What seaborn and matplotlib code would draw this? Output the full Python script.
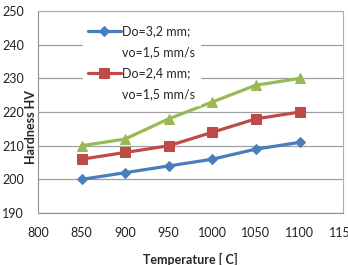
import numpy as np
import pandas as pd
import matplotlib
matplotlib.use("Agg")
import matplotlib.pyplot as plt
from matplotlib.lines import Line2D
import seaborn as sns

temperature = [850, 900, 950, 1000, 1050, 1100]
hv_d32 = [200, 202, 204, 206, 209, 211]
hv_d24 = [206, 208, 210, 214, 218, 220]
hv_d3 = [210, 212, 218, 223, 228, 230]
labels = ["Do=3,2 mm;", "Do=2,4 mm;", "series 3"]
second_line = "vo=1,5 mm/s"
xticks = [800, 850, 900, 950, 1000, 1050, 1100, 1150]
yticks = [190, 200, 210, 220, 230, 240, 250]

sns.set_style("white")
plt.rcParams['font.family'] = ['Lato', 'DejaVu Sans']
plt.rcParams['font.size'] = 9

fig = plt.figure(figsize=(3.48, 2.65), dpi=100)
ax = fig.add_axes([0.109, 0.196, 0.877, 0.762])

styles = [("#4A7EBB", "D", 5.5), ("#BE4B48", "s", 7), ("#98B954", "^", 7.5)]
for vals, lab, (col, mk, ms) in zip([hv_d32, hv_d24, hv_d3], labels, styles):
    df = pd.DataFrame({"T": temperature, "HV": vals})
    sns.lineplot(data=df, x="T", y="HV", ax=ax, color=col, marker=mk,
                 markersize=ms, markeredgecolor=col, linewidth=2.3, label=lab)

ax.set_xlim(800, 1150)
ax.set_ylim(190, 250)
ax.set_xticks(xticks)
ax.set_yticks(yticks)
ax.grid(axis='y', color='#A0A0A0', linewidth=0.9)
ax.grid(axis='x', visible=False)
ax.tick_params(length=0, labelsize=9, colors='#222222')
ax.tick_params(axis='y', pad=10)
ax.tick_params(axis='x', pad=10)
for s in ['left', 'bottom']:
    ax.spines[s].set_color('#909090')
for s in ['top', 'right']:
    ax.spines[s].set_color('#8EB4E3')

ax.set_xlabel("Temperature [ C]", fontweight='bold', fontsize=9)
ax.set_ylabel("Hardness HV", fontweight='bold', fontsize=9)
ax.yaxis.set_label_coords(-0.002, 0.426)
ax.xaxis.set_label_coords(0.5, -0.2)

h, l = ax.get_legend_handles_labels()
blank = Line2D([], [], linestyle='none')
leg = ax.legend([h[0], blank, h[1], blank],
                [l[0], second_line, l[1], second_line],
                loc='upper left', bbox_to_anchor=(0.128, 0.985),
                frameon=True, fontsize=9, handlelength=2.6, labelspacing=0.7,
                borderpad=0.4, handletextpad=0.1, fancybox=False)
leg.get_frame().set_edgecolor('white')
leg.get_frame().set_facecolor('white')
leg.get_frame().set_alpha(1)

fig.savefig("out.png", dpi=100)
